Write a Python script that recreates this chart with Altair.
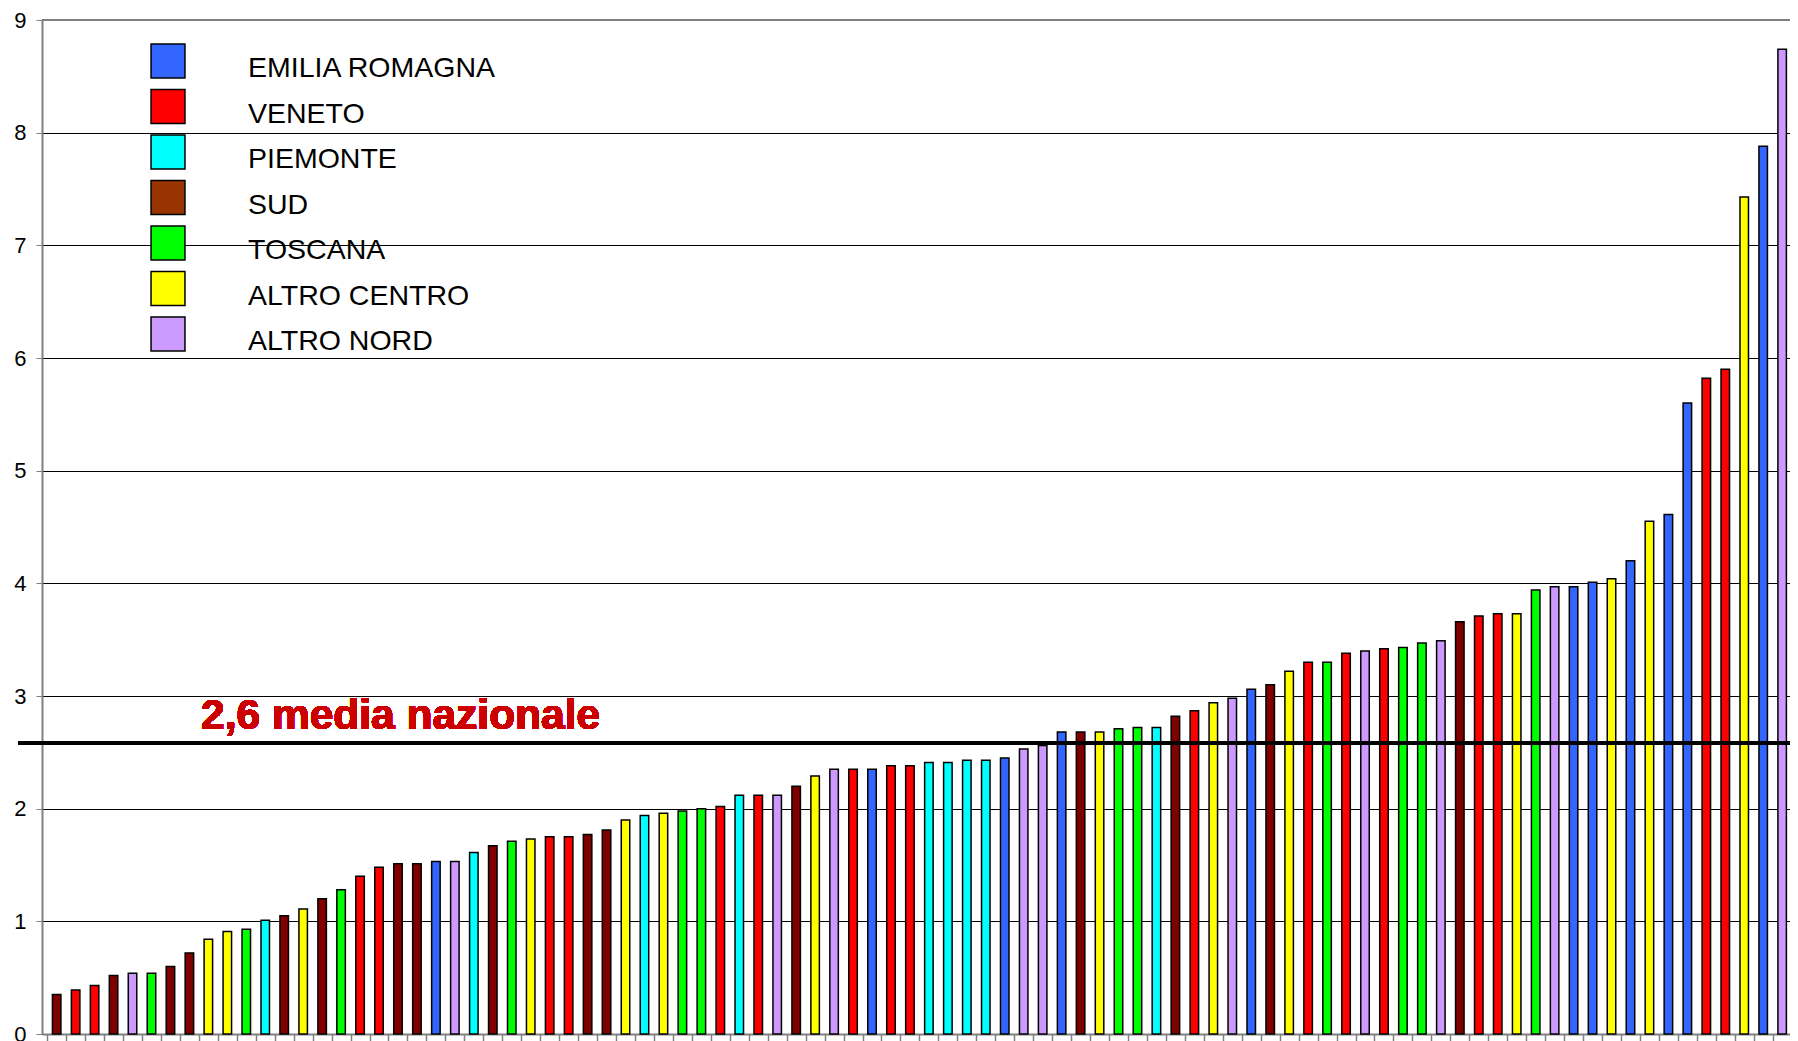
import altair as alt
import pandas as pd

# ---- data ----
values = [0.35, 0.39, 0.43, 0.52, 0.54, 0.54, 0.60, 0.72, 0.84, 0.91,
          0.93, 1.01, 1.05, 1.11, 1.20, 1.28, 1.40, 1.48, 1.51, 1.51,
          1.53, 1.53, 1.61, 1.67, 1.71, 1.73, 1.75, 1.75, 1.77, 1.81,
          1.90, 1.94, 1.96, 1.98, 2.00, 2.02, 2.12, 2.12, 2.12, 2.20,
          2.29, 2.35, 2.35, 2.35, 2.38, 2.38, 2.41, 2.41, 2.43, 2.43,
          2.45, 2.53, 2.56, 2.68, 2.68, 2.68, 2.71, 2.72, 2.72, 2.82,
          2.87, 2.94, 2.98, 3.06, 3.10, 3.22, 3.30, 3.30, 3.38, 3.40,
          3.42, 3.43, 3.47, 3.49, 3.66, 3.71, 3.73, 3.73, 3.94, 3.97,
          3.97, 4.01, 4.04, 4.20, 4.55, 4.61, 5.60, 5.82, 5.90, 7.43,
          7.88, 8.74]

region_codes = ["S", "V", "V", "S", "N", "T", "S", "S", "C", "C",
                "T", "P", "S", "C", "S", "T", "V", "V", "S", "S",
                "E", "N", "P", "S", "T", "C", "V", "V", "S", "S",
                "C", "P", "C", "T", "T", "V", "P", "V", "N", "S",
                "C", "N", "V", "E", "V", "V", "P", "P", "P", "P",
                "E", "N", "N", "E", "S", "C", "T", "T", "P", "S",
                "V", "C", "N", "E", "S", "C", "V", "T", "V", "N",
                "V", "T", "T", "N", "S", "V", "V", "C", "T", "N",
                "E", "E", "C", "E", "C", "E", "E", "V", "V", "C",
                "E", "N"]

legend_codes = ["E", "V", "P", "S", "T", "C", "N"]
legend_names = ["EMILIA ROMAGNA", "VENETO", "PIEMONTE", "SUD",
                "TOSCANA", "ALTRO CENTRO", "ALTRO NORD"]
bar_colors = ["#3366FF", "#FF0000", "#00FFFF", "#800000",
              "#00FF00", "#FFFF00", "#CC99FF"]
legend_colors = ["#3366FF", "#FF0000", "#00FFFF", "#993300",
                 "#00FF00", "#FFFF00", "#CC99FF"]

mean_value = 2.58
mean_label = "2,6 media nazionale"
y_ticks = [0, 1, 2, 3, 4, 5, 6, 7, 8, 9]
n_bars = len(values)
x_ticks = [i + 0.5 for i in range(0, n_bars + 1)]

W = 1748
H = 1014

code_to_name = dict(zip(legend_codes, legend_names))
df = pd.DataFrame({
    "idx": list(range(1, n_bars + 1)),
    "valore": values,
    "regione": [code_to_name[c] for c in region_codes],
})
leg_df = pd.DataFrame({"regione": legend_names, "colore": legend_colors})

FONT = "Liberation Sans"

bars = alt.Chart(df).mark_bar(stroke="black", strokeWidth=1.5, size=8.5,
                              clip=False).encode(
    x=alt.X("idx:Q",
            scale=alt.Scale(domain=[0.49, n_bars + 0.15], nice=False, zero=False),
            axis=alt.Axis(labels=False, title=None, values=x_ticks,
                          tickSize=7, tickColor="#808080", tickWidth=1.5,
                          domainColor="#808080", domainWidth=2, grid=False)),
    y=alt.Y("valore:Q",
            scale=alt.Scale(domain=[0, 9], nice=False),
            axis=alt.Axis(values=y_ticks, format="d", title=None, grid=True,
                          gridColor="black", gridWidth=1,
                          tickColor="#808080", tickSize=6,
                          domainColor="#808080", domainWidth=2,
                          labelFontSize=22, labelColor="black",
                          labelFont=FONT, labelPadding=10)),
    color=alt.Color("regione:N",
                    scale=alt.Scale(domain=legend_names, range=bar_colors),
                    legend=None),
)

top_rule = alt.Chart(df).mark_rule(color="#808080", strokeWidth=2).encode(
    y=alt.datum(9), x=alt.value(0), x2=alt.value(W))

mean_rule = alt.Chart(df).mark_rule(color="black", strokeWidth=3).encode(
    y=alt.datum(mean_value), x=alt.value(-24), x2=alt.value(W))

mean_text = alt.Chart(df).mark_text(
    text=mean_label, color="#CC0000", font=FONT, fontSize=42.5,
    fontWeight="bold", align="left", baseline="alphabetic", dy=-14
).encode(y=alt.datum(mean_value), x=alt.value(159))

main = alt.layer(bars, top_rule, mean_rule, mean_text)

leg_y = alt.Y("regione:N", sort=legend_names,
              scale=alt.Scale(type="point", domain=legend_names,
                              range=[41, 314], padding=0),
              axis=None)

swatches = alt.Chart(leg_df).mark_square(
    size=1150, stroke="black", strokeWidth=1.5, opacity=1
).encode(
    x=alt.value(126),
    y=leg_y,
    color=alt.Color("colore:N", scale=None),
)

labels = alt.Chart(leg_df).mark_text(
    align="left", baseline="middle", font=FONT, fontSize=28.5,
    color="black", dy=7
).encode(
    x=alt.value(206),
    y=leg_y,
    text="regione:N",
)

legend = alt.layer(swatches, labels)

chart = alt.layer(main, legend).resolve_scale(
    y="independent", x="independent", color="independent"
).properties(
    width=W, height=H,
    autosize=alt.AutoSizeParams(type="none"),
    padding={"left": 34, "top": 12, "right": 0, "bottom": 8},
).configure_view(stroke=None).configure(font=FONT)

chart.save("out.html", embed_options={"renderer": "svg", "actions": False})
